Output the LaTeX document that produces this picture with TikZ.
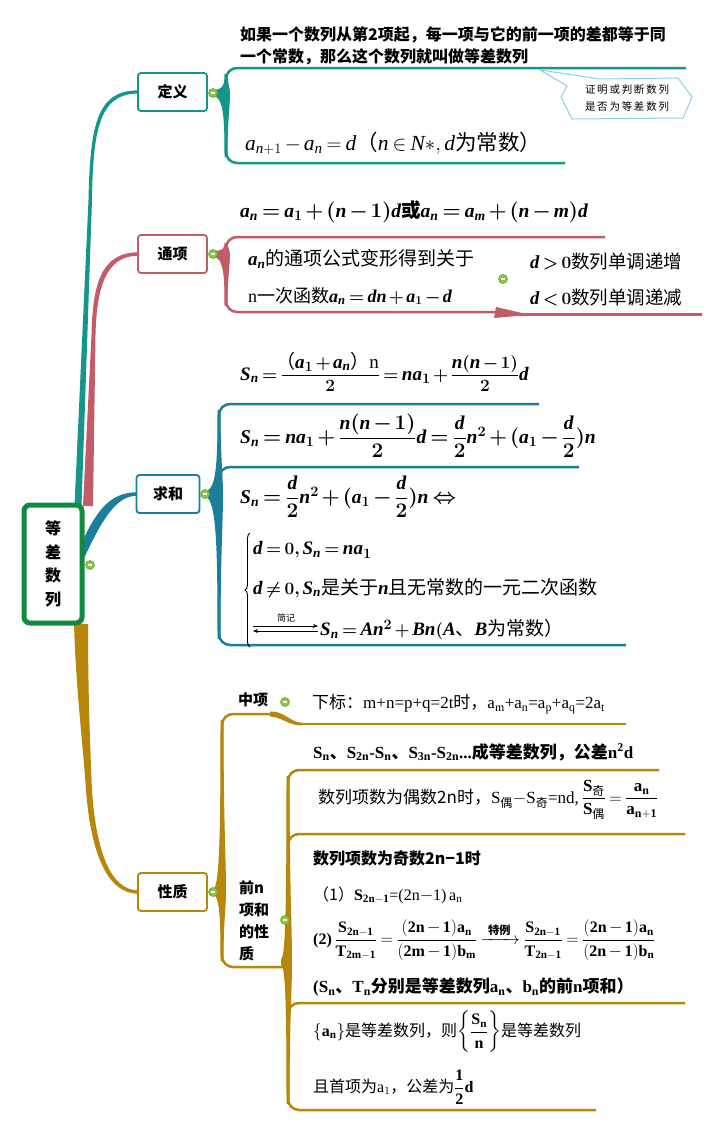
\documentclass[tikz,border=0pt]{standalone}
\usepackage{amsmath}
\usepackage{bm}
\usepackage{fontspec}
\setmainfont{Liberation Serif}
\newfontfamily\cjk{Noto Sans CJK SC}
\DeclareSymbolFont{tletters}{TU}{\rmdefault}{m}{it}
\SetSymbolFont{tletters}{bold}{TU}{\rmdefault}{\bfdefault}{it}
\DeclareSymbolFont{tdigits}{TU}{\rmdefault}{m}{n}
\SetSymbolFont{tdigits}{bold}{TU}{\rmdefault}{\bfdefault}{n}
\newcommand\tlet[1]{\DeclareMathSymbol{#1}{\mathalpha}{tletters}{`#1}}
\newcommand\tdig[1]{\DeclareMathSymbol{#1}{\mathalpha}{tdigits}{`#1}}
\tlet a\tlet b\tlet d\tlet m\tlet n\tlet p\tlet q\tlet t\tlet S\tlet A\tlet B\tlet N\tlet T
\tdig 0\tdig 1\tdig 2\tdig 3\tdig 4\tdig 5\tdig 6\tdig 7\tdig 8\tdig 9
\DeclareMathSymbol{+}{\mathbin}{tdigits}{`+}
\DeclareMathSymbol{=}{\mathrel}{tdigits}{`=}
\DeclareMathDelimiter{(}{\mathopen}{tdigits}{"28}{largesymbols}{"00}
\DeclareMathDelimiter{)}{\mathclose}{tdigits}{"29}{largesymbols}{"01}
\thickmuskip=3.5mu plus 1mu
\medmuskip=2.5mu plus 1mu
\usetikzlibrary{arrows.meta,calc,decorations.pathreplacing}
\definecolor{cteal}{HTML}{14968A}
\definecolor{cpink}{HTML}{C25C69}
\definecolor{cblue}{HTML}{1B7E9B}
\definecolor{cgold}{HTML}{B8860B}
\definecolor{cgreen}{HTML}{0F8B3F}
\definecolor{cmark}{HTML}{8CC63F}
\definecolor{cmarkd}{HTML}{5FA83A}
\definecolor{ccall}{HTML}{8DCFE6}
\newcommand\zh[1]{\text{\cjk #1}}
\newcommand\zhb[1]{\text{\cjk\bfseries #1}}
\newcommand\fs[1]{\fontsize{#1}{#1}\selectfont}
% tapered bracket: #1 xm, #2 ym, #3 xv, #4 ytop, #5 ybot, #6 colour
\newcommand\mmbrace[6]{%
  \fill[#6] (#1,{#2-3}) .. controls ({#3-2},{#2-3}) and ({#3-1.5},{#2-(#2-#4)*0.4}) .. ({#3-1.5},{#4+6})
    -- ({#3+1.5},{#4+6}) .. controls ({#3+1.5},{#2-(#2-#4)*0.4}) and ({#3+4},{#2-(#2-#4)*0.2}) .. ({#3+4},#2)
    .. controls ({#3+4},{#2+(#5-#2)*0.2}) and ({#3+1.5},{#2+(#5-#2)*0.4}) .. ({#3+1.5},{#5-6})
    -- ({#3-1.5},{#5-6}) .. controls ({#3-1.5},{#2+(#5-#2)*0.4}) and ({#3-2},{#2+3}) .. (#1,{#2+3}) -- cycle;}
\newcommand\mmark[3]{\node[mmk] (#1) at (#2,#3) {};
  \draw[white, line width=1.1] ($(#1.center)+(-2.3,0)$) -- ($(#1.center)+(2.3,0)$);}
\tikzset{
  topic/.style={draw, line width=1.8, rounded corners=3, fill=white, minimum width=69,
    minimum height=38, inner sep=0, font=\cjk\bfseries\fs{15}},
  txt/.style={anchor=west, inner sep=0},
  lbl/.style={anchor=west, inner sep=0, font=\cjk\bfseries\fs{15}},
  mmk/.style={circle, fill=cmark, draw=cmarkd, line width=0.6, minimum size=9, inner sep=0},
  bline/.style={line width=2.5, rounded corners=11},
}
\begin{document}
\begin{tikzpicture}[x=1pt,y=-1pt]
\useasboundingbox[fill=white] (0,0) rectangle (720,1130);

% ---------- trunks ----------
\fill[cteal] (138,90.4) .. controls (97,90.4) and (90,125) .. (88.5,200) -- (74.5,506) -- (81.5,506)
  -- (92,200) .. controls (93,128) and (100,93.6) .. (138,93.6) -- cycle;
\fill[cpink] (138,252.3) .. controls (101,252.3) and (92.5,285) .. (91.5,335) -- (83,506) -- (93,506)
  -- (95.5,335) .. controls (96.5,290) and (105,255.7) .. (138,255.7) -- cycle;
\fill[cblue] (137,492.3) .. controls (112,492.3) and (98,508) .. (83,540) -- (84,558)
  .. controls (100,525) and (114,495.7) .. (137,495.7) -- cycle;
\fill[cgold] (74,624) .. controls (76,690) and (83,745) .. (86,790) .. controls (91,855) and (108,893.7) .. (138,893.7)
  -- (138,890.3) .. controls (111,890.3) and (96,852) .. (92,790) .. controls (90,745) and (88,690) .. (88,624) -- cycle;

% ---------- root and topics ----------
\node[draw=cgreen, line width=5, rounded corners=6, fill=white, minimum width=58, minimum height=118,
  inner sep=0, align=center, font=\cjk\bfseries\fs{16}] (root) at (53,564)
  {等\\[7.5pt]差\\[7.5pt]数\\[7.5pt]列};
\node[topic, draw=cteal] (dy) at (172.5,92) {定义};
\node[topic, draw=cpink] (tx) at (172.5,254) {通项};
\node[topic, draw=cblue, minimum width=63] (qh) at (168,494) {求和};
\node[topic, draw=cgold] (xz) at (172.5,892) {性质};

% ---------- 定义 ----------
\mmbrace{213}{93}{226}{68}{163}{cteal}
\draw[cteal, bline] (686,68) -- (226,68) -- (226,163) -- (565,163);
\node[txt, font=\cjk\bfseries\fs{16}] (d1) at (240,35) {如果一个数列从第2项起，每一项与它的前一项的差都等于同};
\node[txt, font=\cjk\bfseries\fs{16}] (d2) at (240,57) {一个常数，那么这个数列就叫做等差数列};
\node[txt, font=\fs{21.5}] (d3) at (245,143) {$a_{n+1}-a_n=d$\zh{（}$n\in N{*},d$\zh{为常数）}};
\filldraw[fill=white, draw=ccall, line width=1] (540,70) -- (600,79) -- (678,78) -- (692,97) -- (683,118)
  -- (572,119) -- (561,97) -- (567,86) -- cycle;
\node[font=\cjk\fs{10.5}, align=center, inner sep=0] (cb) at (627,98)
  {证\,明\,或\,判\,断\,数\,列\\[6pt]是\,否\,为\,等\,差\,数\,列};

% ---------- 通项 ----------
\mmbrace{213}{254}{226}{237}{312}{cpink}
\draw[cpink, bline] (605,237) -- (226,237) -- (226,312) -- (497,312);
\fill[cpink] (496,307) -- (522,313) -- (522,315.5) -- (494,318) -- cycle;
\draw[cpink, line width=2.5] (518,314.3) -- (702,314.3);
\node[txt, font=\fs{19.5}] (t1) at (240,212) {$\bm{a_n=a_1+(n-1)d}$\zhb{或}$\bm{a_n=a_m+(n-m)d}$};
\node[txt, font=\fs{19}] (t2) at (248,259) {$\bm{a_n}$\zh{的通项公式变形得到关于}};
\node[txt, font=\fs{18}] (t3) at (248,296) {n\zh{一次函数}$\bm{a_n=dn+a_1-d}$};
\node[txt, font=\fs{18.5}] (t4) at (530,261) {$\bm{d>0}$\zh{数列单调递增}};
\node[txt, font=\fs{18.5}] (t5) at (530,297) {$\bm{d<0}$\zh{数列单调递减}};

% ---------- 求和 ----------
\mmbrace{205}{494}{219}{404}{645}{cblue}
\draw[cblue, bline] (539,404) -- (219,404) -- (219,645) -- (626,645);
\draw[cblue, bline] (579,467) -- (219,467) -- (219,490);
\node[txt, font=\fs{19}] (s1) at (240,372) {$\bm{S_n=}\dfrac{\hspace{-0.3em}\zh{（}\bm{a_1+a_n}\zh{）}\mathrm{n}}{\bm{2}}\bm{=na_1+}\dfrac{\bm{n(n-1)}}{\bm{2}}\bm{d}$};
\node[txt, font=\fs{19.5}] (s2) at (240,436) {$\bm{S_n=na_1+}\dfrac{\bm{n(n-1)}}{\bm{2}}\bm{d=}\dfrac{\bm{d}}{\bm{2}}\bm{n^2+(a_1-}\dfrac{\bm{d}}{\bm{2}}\bm{)n}$};
\node[txt, font=\fs{19.5}] (s3) at (240,497) {$\bm{S_n=}\dfrac{\bm{d}}{\bm{2}}\bm{n^2+(a_1-}\dfrac{\bm{d}}{\bm{2}}\bm{)n\Leftrightarrow}$};
\coordinate (bb) at (250,647);
\coordinate (bt) at (250,533);
\draw[line width=0.9, decorate, decoration={brace, amplitude=5pt}] (bb) -- (bt);
\node[txt, font=\fs{19}] (s4) at (253,550) {$\bm{d=0,S_n=na_1}$};
\node[txt, font=\fs{19}] (s5) at (253,588) {$\bm{d\ne0,S_n}$\zh{是关于}$\bm{n}$\zh{且无常数的一元二次函数}};
\coordinate (a1) at (253,626);
\coordinate (a2) at (318,626);
\draw[line width=0.8, -{Stealth[length=5pt,width=4pt]}] (a1) -- (a2);
\draw[line width=0.8, -{Stealth[length=5pt,width=4pt]}] ($(a2)+(0,5)$) -- ($(a1)+(0,5)$);
\node[font=\cjk\fs{9}, inner sep=0] (jj) at (286,618) {简记};
\node[txt, font=\fs{19}] (s6) at (320,630) {$\bm{S_n=An^2+Bn(A}$\zh{、}$\bm{B}$\zh{为常数）}};

% ---------- 性质 ----------
\mmbrace{213}{892}{222}{714}{967}{cgold}
\draw[cgold, bline] (273,714) -- (222,714) -- (222,967) -- (289,967);
\node[lbl] (zx) at (238,700) {中项};
\fill[cgold] (270,711.5) .. controls (285,711) and (290,722.5) .. (302,722.7) -- (302,725.5)
  .. controls (288,725.5) and (282,717) .. (270,716.5) -- cycle;
\draw[cgold, line width=2.5] (300,724) -- (626,724);
\node[txt, font=\fs{17}] (p1) at (312,704) {\zh{下标：}m+n=p+q=2t\zh{时，}a$_{\mathrm m}$+a$_{\mathrm n}$=a$_{\mathrm p}$+a$_{\mathrm q}$=2a$_{\mathrm t}$};

\node[anchor=north west, inner sep=0, align=left, font=\cjk\bfseries\fs{15}] (qn) at (239,880)
  {前n\\[7pt]项和\\[7pt]的性\\[7pt]质};
\mmbrace{281}{962}{288}{770}{1110}{cgold}
\draw[cgold, bline] (659,770) -- (288,770) -- (288,1110) -- (596,1110);
\draw[cgold, bline] (685,834) -- (288,834) -- (288,858);
\draw[cgold, bline] (685,1003) -- (288,1003) -- (288,1027);

\node[txt, font=\fs{17}] (q1) at (313,752) {\textbf{S$_{\mathbf n}$\zhb{、}S$_{\mathbf{2n}}$-S$_{\mathbf n}$\zhb{、}S$_{\mathbf{3n}}$-S$_{\mathbf{2n}}$...\zhb{成等差数列，公差}n$^{\mathbf 2}$d}};
\node[txt, font=\fs{17}] (q2) at (318,800) {\zh{数列项数为偶数2n时，}S$_{\zh{偶}}$$-$S$_{\zh{奇}}$=nd,\,$\dfrac{\mathbf S_{\zh{奇}}}{\mathbf S_{\zh{偶}}}=\dfrac{\mathbf a_{\mathbf n}}{\mathbf a_{\mathbf{n+1}}}$};
\node[txt, font=\fs{16}] (q3) at (313,858) {\zhb{数列项数为奇数2n−1时}};
\node[txt, font=\fs{16}] (q4) at (313,895) {\zh{（1）}\textbf{S}$_{\mathbf{2n-1}}$=(2n$-$1)\,a$_{\mathrm n}$};
\node[txt, font=\fs{16}] (q5) at (313,940) {\textbf{(2)}\,$\dfrac{\mathbf S_{\mathbf{2n-1}}}{\mathbf T_{\mathbf{2m-1}}}=\dfrac{\mathbf{(2n-1)a_n}}{\mathbf{(2m-1)b_m}}\xrightarrow{\;\;\zhb{特例}\;\;}\dfrac{\mathbf S_{\mathbf{2n-1}}}{\mathbf T_{\mathbf{2n-1}}}=\dfrac{\mathbf{(2n-1)a_n}}{\mathbf{(2n-1)b_n}}$};
\node[txt, font=\fs{17}] (q6) at (313,987) {\textbf{(S}$_{\mathbf n}$\zhb{、}\textbf{T}$_{\mathbf n}$\zhb{分别是等差数列}\textbf{a}$_{\mathbf n}$\zhb{、}\textbf{b}$_{\mathbf n}$\zhb{的前}\textbf{n}\zhb{项和）}};
\node[txt, font=\fs{16}] (q7) at (313,1032) {$\left\{\mathbf a_{\mathbf n}\right\}$\zh{是等差数列，则}$\left\{\dfrac{\mathbf S_{\mathbf n}}{\mathbf n}\right\}$\zh{是等差数列}};
\node[txt, font=\fs{16}] (q8) at (313,1087) {\zh{且首项为}a$_{1}$\zh{，公差为}$\dfrac{\mathbf 1}{\mathbf 2}\mathbf d$};

% ---------- markers ----------
\mmark{m0}{90}{565}
\mmark{m1}{213}{93}
\mmark{m2}{213}{254}
\mmark{m3}{503}{279}
\mmark{m4}{205}{494}
\mmark{m5}{213}{892}
\mmark{m6}{285}{702}
\mmark{m7}{285}{920}
\end{tikzpicture}
\end{document}
